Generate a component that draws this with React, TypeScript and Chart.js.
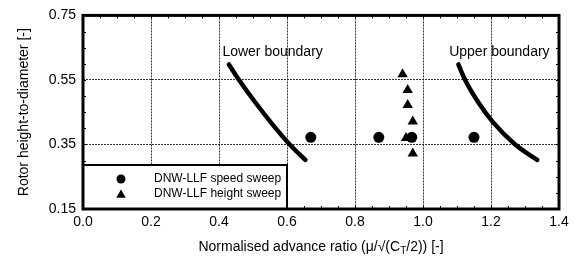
import React, { useEffect, useRef } from "react";
import { Chart, registerables } from "chart.js";

Chart.register(...registerables);

// ---- data ----
const speedSweepX = [0.67, 0.87, 0.967, 1.15];
const speedSweepY = [0.372, 0.372, 0.372, 0.372];
const heightSweepX = [0.94, 0.955, 0.955, 0.97, 0.95, 0.97];
const heightSweepY = [0.568, 0.519, 0.472, 0.421, 0.37, 0.322];
const lowerBoundaryX = [0.429, 0.459, 0.507, 0.559, 0.608, 0.654];
const lowerBoundaryY = [0.598, 0.55, 0.48, 0.41, 0.35, 0.302];
const upperBoundaryX = [1.104, 1.124, 1.163, 1.205, 1.271, 1.336];
const upperBoundaryY = [0.598, 0.55, 0.48, 0.42, 0.35, 0.302];

const seriesLabels = ["DNW-LLF speed sweep", "DNW-LLF height sweep"];
const boundaryLabels = ["Lower boundary", "Upper boundary"];
const boundaryLabelX = [0.41, 1.077];
const boundaryLabelY = [0.637, 0.637];

const xTicks = [0, 0.2, 0.4, 0.6, 0.8, 1.0, 1.2, 1.4];
const yTicks = [0.15, 0.35, 0.55, 0.75];
const minorStep = 0.05;

const xTitleMain = "Normalised advance ratio (\u03bc/\u221a(C";
const xTitleSub = "T";
const xTitleEnd = "/2)) [-]";
const yTitle = "Rotor height-to-diameter [-]";

const FONT = '"Liberation Sans", Arial, Helvetica, sans-serif';

const toPts = (xs: number[], ys: number[]) => xs.map((x, i) => ({ x, y: ys[i] }));

function drawTriangle(ctx: CanvasRenderingContext2D, cx: number, cy: number, r: number) {
  ctx.beginPath();
  for (let k = 0; k < 3; k++) {
    const a = (k * 2 * Math.PI) / 3;
    const px = cx + Math.sin(a) * r;
    const py = cy - Math.cos(a) * r;
    if (k === 0) ctx.moveTo(px, py);
    else ctx.lineTo(px, py);
  }
  ctx.closePath();
  ctx.fill();
}

const decorPlugin = {
  id: "decor",
  afterDraw(chart: any) {
    const { ctx, chartArea: ca, scales } = chart;
    const xs = scales.x;
    const ys = scales.y;
    ctx.save();
    // minor ticks, inward, on all sides
    ctx.strokeStyle = "#000";
    ctx.lineWidth = 1;
    const tl = 3;
    ctx.beginPath();
    for (let i = 0; i * minorStep <= xs.max + 1e-9; i++) {
      const px = Math.round(xs.getPixelForValue(i * minorStep)) + 0.5;
      ctx.moveTo(px, ca.bottom);
      ctx.lineTo(px, ca.bottom - tl);
      ctx.moveTo(px, ca.top);
      ctx.lineTo(px, ca.top + tl);
    }
    for (let i = 0; ys.min + i * minorStep <= ys.max + 1e-9; i++) {
      const py = Math.round(ys.getPixelForValue(ys.min + i * minorStep)) + 0.5;
      ctx.moveTo(ca.left, py);
      ctx.lineTo(ca.left + tl, py);
      ctx.moveTo(ca.right, py);
      ctx.lineTo(ca.right - tl, py);
    }
    ctx.stroke();

    // legend box
    const lx = ca.left;
    const lw = 204;
    const lh = 44;
    const ly = ca.bottom - lh;
    ctx.fillStyle = "#fff";
    ctx.fillRect(lx, ly, lw, lh);
    ctx.lineWidth = 2;
    ctx.strokeStyle = "#000";
    ctx.strokeRect(lx, ly, lw, lh);
    ctx.fillStyle = "#000";
    ctx.beginPath();
    ctx.arc(lx + 38, ly + 14, 4.5, 0, Math.PI * 2);
    ctx.fill();
    drawTriangle(ctx, lx + 38, ly + 30, 5.5);
    ctx.font = "12px " + FONT;
    ctx.textAlign = "left";
    ctx.textBaseline = "middle";
    ctx.fillText(seriesLabels[0], lx + 71, ly + 14);
    ctx.fillText(seriesLabels[1], lx + 71, ly + 29);

    // frame
    ctx.lineWidth = 3;
    ctx.strokeRect(ca.left, ca.top, ca.right - ca.left, ca.bottom - ca.top);

    // boundary labels
    ctx.font = "14px " + FONT;
    ctx.textBaseline = "middle";
    boundaryLabels.forEach((t, i) => {
      ctx.fillText(t, xs.getPixelForValue(boundaryLabelX[i]), ys.getPixelForValue(boundaryLabelY[i]));
    });

    // x title with subscript
    const mainFont = "14px " + FONT;
    const subFont = "10px " + FONT;
    ctx.font = mainFont;
    const w1 = ctx.measureText(xTitleMain).width;
    const w3 = ctx.measureText(xTitleEnd).width;
    ctx.font = subFont;
    const w2 = ctx.measureText(xTitleSub).width;
    const total = w1 + w2 + w3;
    let tx = (ca.left + ca.right) / 2 - total / 2;
    const ty = 247;
    ctx.textAlign = "left";
    ctx.textBaseline = "middle";
    ctx.font = mainFont;
    ctx.fillText(xTitleMain, tx, ty);
    tx += w1;
    ctx.font = subFont;
    ctx.fillText(xTitleSub, tx, ty + 4);
    tx += w2;
    ctx.font = mainFont;
    ctx.fillText(xTitleEnd, tx, ty);

    // y title
    ctx.save();
    ctx.translate(24, (ca.top + ca.bottom) / 2);
    ctx.rotate(-Math.PI / 2);
    ctx.textAlign = "center";
    ctx.textBaseline = "middle";
    ctx.font = "14px " + FONT;
    ctx.fillText(yTitle, 0, 0);
    ctx.restore();

    ctx.restore();
  },
};

export default function App() {
  const ref = useRef<HTMLCanvasElement | null>(null);
  useEffect(() => {
    if (!ref.current) return;
    const lineStyle = {
      type: "line" as const,
      borderColor: "#000",
      backgroundColor: "#000",
      borderWidth: 4.5,
      pointRadius: 0,
      cubicInterpolationMode: "monotone" as const,
      borderCapStyle: "round" as const,
      borderJoinStyle: "round" as const,
      showLine: true,
      fill: false,
    };
    const chart = new Chart(ref.current, {
      type: "scatter",
      data: {
        datasets: [
          { ...lineStyle, label: boundaryLabels[0], data: toPts(lowerBoundaryX, lowerBoundaryY) },
          { ...lineStyle, label: boundaryLabels[1], data: toPts(upperBoundaryX, upperBoundaryY) },
          {
            label: seriesLabels[0],
            data: toPts(speedSweepX, speedSweepY),
            pointStyle: "circle",
            pointRadius: 5.5,
            backgroundColor: "#000",
            borderColor: "#000",
            borderWidth: 0,
          },
          {
            label: seriesLabels[1],
            data: toPts(heightSweepX, heightSweepY),
            pointStyle: "triangle",
            pointRadius: 6,
            backgroundColor: "#000",
            borderColor: "#000",
            borderWidth: 0,
          },
        ],
      },
      options: {
        animation: false,
        responsive: false,
        devicePixelRatio: 1,
        layout: { padding: { top: 12, right: 22, left: 0, bottom: 0 } },
        plugins: { legend: { display: false }, tooltip: { enabled: false } },
        scales: {
          x: {
            type: "linear",
            min: 0,
            max: 1.4,
            afterBuildTicks: (s: any) => {
              s.ticks = xTicks.map((v) => ({ value: v }));
            },
            afterFit: (s: any) => {
              s.height = 54;
            },
            ticks: {
              color: "#000",
              font: { family: FONT, size: 14 },
              padding: 5,
              maxRotation: 0,
              callback: (v: any) => Number(v).toFixed(1),
            },
            grid: { color: "#333", lineWidth: 1, drawTicks: false },
            border: { display: false, dash: [2, 1] },
          },
          y: {
            type: "linear",
            min: 0.15,
            max: 0.75,
            afterBuildTicks: (s: any) => {
              s.ticks = yTicks.map((v) => ({ value: v }));
            },
            afterFit: (s: any) => {
              s.width = 83;
            },
            ticks: {
              color: "#000",
              font: { family: FONT, size: 14 },
              padding: 7,
              callback: (v: any) => Number(v).toFixed(2),
            },
            grid: { color: "#333", lineWidth: 1, drawTicks: false },
            border: { display: false, dash: [2, 1] },
          },
        },
      },
      plugins: [decorPlugin],
    });
    return () => chart.destroy();
  }, []);
  return (
    <div style={{ position: "absolute", left: 0, top: 0, width: 581, height: 263, background: "#fff" }}>
      <canvas ref={ref} width={581} height={263} />
    </div>
  );
}
